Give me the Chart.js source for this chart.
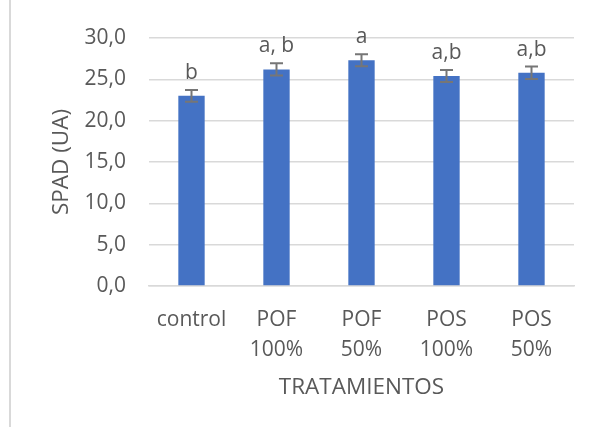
<!DOCTYPE html>
<html>
<head>
<meta charset="utf-8">
<script src="https://cdn.jsdelivr.net/npm/chart.js@4/dist/chart.umd.min.js"></script>
<style>
  html, body { margin: 0; padding: 0; background: #ffffff; }
  #wrap { width: 590px; height: 427px; }
</style>
</head>
<body>
<div id="wrap"><canvas id="c" width="590" height="427"></canvas></div>
<script>
// Treatments on the x axis (multi-line labels)
const categories = [["control"], ["POF", "100%"], ["POF", "50%"], ["POS", "100%"], ["POS", "50%"]];
// Mean SPAD reading per treatment
const spadValues = [23.0, 26.2, 27.3, 25.4, 25.8];
// Standard error per treatment
const spadErrors = [0.72, 0.75, 0.72, 0.72, 0.75];
// Significance letters shown above each bar
const groupLetters = ["b", "a, b", "a", "a,b", "a,b"];
// Y axis tick values
const yTicks = [0, 5, 10, 15, 20, 25, 30];

const FONT = "'Open Sans', 'Noto Sans', sans-serif";
const TEXT = "#595959";

// Error bars and significance letters, positioned through the chart scales
const errorBarPlugin = {
  id: "errorBars",
  afterDatasetsDraw(chart) {
    const ctx = chart.ctx;
    const meta = chart.getDatasetMeta(0);
    const y = chart.scales.y;
    ctx.save();
    meta.data.forEach((bar, i) => {
      const v = spadValues[i], e = spadErrors[i];
      const yTop = y.getPixelForValue(v + e);
      const yBot = y.getPixelForValue(v - e);
      const x = bar.x;
      ctx.strokeStyle = "#767676";
      ctx.lineWidth = 2;
      ctx.beginPath();
      ctx.moveTo(x, yTop); ctx.lineTo(x, yBot);
      ctx.moveTo(x - 6.5, yTop); ctx.lineTo(x + 6.5, yTop);
      ctx.moveTo(x - 6.5, yBot); ctx.lineTo(x + 6.5, yBot);
      ctx.stroke();
      ctx.fillStyle = TEXT;
      ctx.font = "21px " + FONT;
      ctx.textAlign = "center";
      ctx.textBaseline = "alphabetic";
      ctx.fillText(groupLetters[i], x, yTop - 11);
    });
    ctx.restore();
  }
};

// Thin frame line on the left edge of the chart
const frameLine = {
  id: "frameLine",
  afterDraw(chart) {
    const ctx = chart.ctx;
    ctx.save();
    ctx.strokeStyle = "#d9d9d9";
    ctx.lineWidth = 2;
    ctx.beginPath();
    ctx.moveTo(10, 0); ctx.lineTo(10, chart.height);
    ctx.stroke();
    ctx.restore();
  }
};

const bgPlugin = {
  id: "bg",
  beforeDraw(chart) {
    const ctx = chart.ctx;
    ctx.save();
    ctx.fillStyle = "#ffffff";
    ctx.fillRect(0, 0, chart.width, chart.height);
    ctx.restore();
  }
};

new Chart(document.getElementById("c"), {
  type: "bar",
  data: {
    labels: categories,
    datasets: [{
      data: spadValues,
      backgroundColor: "#4472C4",
      borderWidth: 0,
      categoryPercentage: 1.0,
      barPercentage: 0.31
    }]
  },
  options: {
    responsive: false,
    animation: false,
    devicePixelRatio: 1,
    layout: { padding: { top: 38, right: 16, left: 0, bottom: 0 } },
    plugins: {
      legend: { display: false },
      tooltip: { enabled: false }
    },
    scales: {
      x: {
        grid: { display: false },
        border: { display: true, color: "#d9d9d9", width: 1.5 },
        ticks: {
          color: TEXT,
          font: { family: FONT, size: 21, lineHeight: 1.43 },
          padding: 11,
          maxRotation: 0,
          autoSkip: false
        },
        title: {
          display: true,
          text: "TRATAMIENTOS",
          color: TEXT,
          font: { family: FONT, size: 22.5, lineHeight: 1.2 },
          padding: { top: 0, bottom: 25.5 }
        },
        afterFit(scale) { scale.height = 141; }
      },
      y: {
        min: 0,
        max: 30,
        afterBuildTicks(scale) { scale.ticks = yTicks.map(v => ({ value: v })); },
        grid: { color: "#d9d9d9", lineWidth: 1.5, drawTicks: false },
        border: { display: false },
        ticks: {
          color: TEXT,
          font: { family: FONT, size: 21 },
          padding: 23,
          callback: (v) => Number(v).toFixed(1).replace(".", ",")
        },
        title: {
          display: true,
          text: "SPAD (UA)",
          color: TEXT,
          font: { family: FONT, size: 22.5, lineHeight: 1.2 },
          padding: { top: 48, bottom: 0 }
        },
        afterFit(scale) { scale.width = 149; }
      }
    }
  },
  plugins: [bgPlugin, errorBarPlugin, frameLine]
});
</script>
</body>
</html>
